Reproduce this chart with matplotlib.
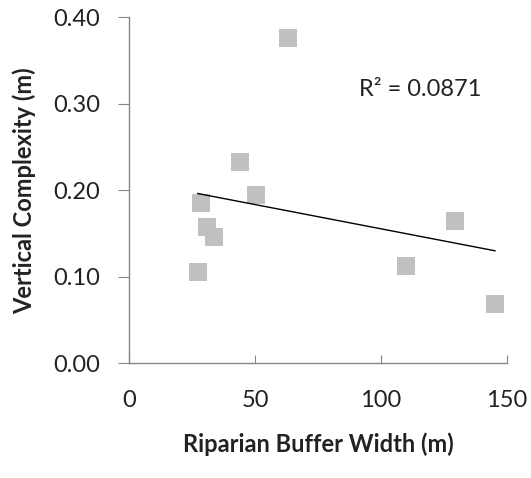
import matplotlib
matplotlib.use("Agg")
import matplotlib.pyplot as plt
import numpy as np

plt.rcParams["font.family"] = ["Lato", "DejaVu Sans"]

# buffer width (m) and vertical complexity (m)
buffer_width = [63.2, 44.0, 50.4, 28.4, 30.8, 33.7, 27.2, 110.0, 129.5, 145.4]
complexity = [0.376, 0.233, 0.195, 0.185, 0.158, 0.146, 0.106, 0.112, 0.164, 0.069]
r2_label = "R² = 0.0871"

x_ticks = [0, 50, 100, 150]
y_ticks = [0.0, 0.1, 0.2, 0.3, 0.4]

axis_gray = "#868686"

fig = plt.figure(figsize=(5.31, 4.78), dpi=100)
ax = fig.add_axes([0.2435, 0.24, 0.954 - 0.2435, 0.9638 - 0.24])

ax.scatter(buffer_width, complexity, marker="s", s=13.5 ** 2, color="#c0c0c0",
           linewidths=0, zorder=2)

# linear trendline over the data range
slope, intercept = np.polyfit(buffer_width, complexity, 1)
xs = np.array([min(buffer_width), max(buffer_width)])
ax.plot(xs, slope * xs + intercept, color="black", lw=1.0, zorder=3)

ax.text(91.5, 0.316, r2_label, fontsize=17, va="center", ha="left", color="#222222")

ax.set_xlim(0, 150)
ax.set_ylim(0, 0.4)
ax.set_xticks(x_ticks)
ax.set_yticks(y_ticks)
ax.set_yticklabels([f"{v:.2f}" for v in y_ticks])

for side in ("top", "right"):
    ax.spines[side].set_visible(False)
for side in ("left", "bottom"):
    ax.spines[side].set_color(axis_gray)
    ax.spines[side].set_linewidth(1.0)

ax.tick_params(axis="x", direction="in", length=6, color=axis_gray, pad=19,
               labelsize=17, labelcolor="#222222")
ax.tick_params(axis="y", direction="out", length=8, color=axis_gray, pad=13,
               labelsize=17, labelcolor="#222222")

ax.set_xlabel("Riparian Buffer Width (m)", fontsize=17, fontweight="bold",
              labelpad=16, color="#222222")
ax.set_ylabel("Vertical Complexity (m)", fontsize=17, fontweight="bold",
              labelpad=12, color="#222222")

fig.savefig("out.png", dpi=100)
